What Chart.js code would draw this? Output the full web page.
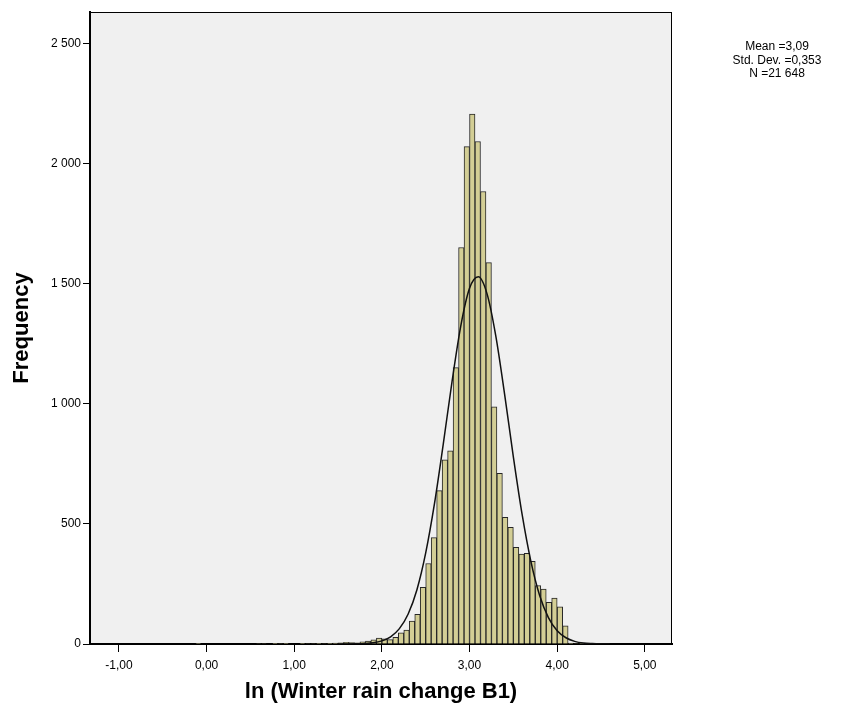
<!DOCTYPE html>
<html lang="en">
<head>
<meta charset="UTF-8">
<title>Histogram</title>
<style>
  html, body { margin: 0; padding: 0; background: #fff; }
  #wrap { width: 841px; height: 715px; }
</style>
</head>
<body>
<div id="wrap"><canvas id="myChart" width="841" height="715"></canvas></div>
<script src="https://cdn.jsdelivr.net/npm/chart.js@4.4.0/dist/chart.umd.min.js"></script>
<script>
// histogram bins (left edge, width 1/16) and counts
const binWidth = 0.0625;
const binLeft = [
  -0.125, 0.5625, 0.625, 0.75, 0.8125, 0.875, 1.0625, 1.125, 1.1875, 1.25,
  1.3125, 1.375, 1.4375, 1.5, 1.5625, 1.625, 1.6875, 1.75, 1.8125, 1.875,
  1.9375, 2.0, 2.0625, 2.125, 2.1875, 2.25, 2.3125, 2.375, 2.4375, 2.5,
  2.5625, 2.625, 2.6875, 2.75, 2.8125, 2.875, 2.9375, 3.0, 3.0625, 3.125,
  3.1875, 3.25, 3.3125, 3.375, 3.4375, 3.5, 3.5625, 3.625, 3.6875, 3.75,
  3.8125, 3.875, 3.9375, 4.0, 4.0625, 4.125, 4.1875, 4.25
];
const freq = [
  3, 2, 2, 1, 2, 1, 1, 2, 2, 3,
  2, 3, 4, 5, 7, 6, 5, 9, 12, 17,
  25, 22, 18, 28, 46, 58, 95, 123, 236, 335,
  443, 638, 766, 804, 1150, 1650, 2070, 2205, 2091, 1883,
  1587, 987, 710, 527, 485, 402, 374, 377, 344, 243,
  229, 173, 191, 155, 76, 4, 2, 1
];

// normal curve (mean 3,09, sd 0,353)
const curveX = [1.5, 1.6, 1.7, 1.8, 1.9, 2.0, 2.1, 2.2, 2.3, 2.4, 2.5, 2.6, 2.7, 2.8, 2.9, 3.0, 3.1,
  3.2, 3.3, 3.4, 3.5, 3.6, 3.7, 3.8, 3.9, 4.0, 4.1, 4.2, 4.3, 4.4, 4.5, 4.6];
const curveY = [0, 0.2, 0.7, 2, 5, 13, 30, 64, 125, 226, 379, 584, 831, 1091, 1323, 1480, 1528,
  1457, 1281, 1040, 779, 539, 344, 202, 110, 55, 26, 11, 4, 1.6, 0.5, 0.2];

const xTicks = [-1, 0, 1, 2, 3, 4, 5];
const yTicks = [0, 500, 1000, 1500, 2000, 2500];
const statsLines = ['Mean =3,09', 'Std. Dev. =0,353', 'N =21 648'];

function milhar(v) {
  return String(v).replace(/\B(?=(\d{3})+(?!\d))/g, ' ');
}

const barData = [];
for (let i = 0; i < binLeft.length; i++) {
  barData.push({ x: binLeft[i] + binWidth / 2, y: freq[i] });
}
const lineData = [];
for (let i = 0; i < curveX.length; i++) {
  lineData.push({ x: curveX[i], y: curveY[i] });
}

// plot background, frame and the stats box text
const fundo = {
  id: 'fundo',
  beforeDraw(chart) {
    const { ctx, chartArea: a } = chart;
    ctx.save();
    ctx.fillStyle = '#ffffff';
    ctx.fillRect(0, 0, chart.width, chart.height);
    ctx.fillStyle = '#f0f0f0';
    ctx.fillRect(a.left, a.top, a.right - a.left, a.bottom - a.top);
    ctx.restore();
  },
  afterDraw(chart) {
    const { ctx, chartArea: a } = chart;
    ctx.save();
    ctx.strokeStyle = '#000';
    ctx.lineWidth = 1;
    ctx.strokeRect(a.left + 0.5, a.top + 0.5, a.right - a.left - 1, a.bottom - a.top);
    ctx.fillStyle = '#000';
    ctx.font = '12px "Liberation Sans", Arial, sans-serif';
    ctx.textAlign = 'center';
    ctx.textBaseline = 'middle';
    statsLines.forEach(function (t, i) {
      ctx.fillText(t, 777, 47 + i * 13.5);
    });
    ctx.restore();
  }
};

const ctx = document.getElementById('myChart');
new Chart(ctx, {
  type: 'bar',
  data: {
    datasets: [
      {
        type: 'line',
        label: 'Normal',
        data: lineData,
        borderColor: '#111',
        borderWidth: 1.5,
        pointRadius: 0,
        fill: false,
        cubicInterpolationMode: 'monotone',
        order: 0
      },
      {
        label: 'Frequency',
        data: barData,
        backgroundColor: '#d3ce95',
        borderColor: '#262626',
        borderWidth: 1,
        barPercentage: 1,
        categoryPercentage: 1,
        grouped: false,
        order: 1
      }
    ]
  },
  options: {
    responsive: false,
    animation: false,
    layout: { padding: { top: 12, right: 169, left: 0, bottom: 0 } },
    plugins: {
      legend: { display: false },
      tooltip: { enabled: false }
    },
    scales: {
      x: {
        type: 'linear',
        min: -1.33,
        max: 5.31,
        offset: false,
        afterFit(scale) { scale.height = 71; },
        afterBuildTicks(scale) { scale.ticks = xTicks.map(v => ({ value: v })); },
        grid: { offset: false, drawOnChartArea: false, drawTicks: true, tickLength: 8, color: '#000', lineWidth: 1 },
        border: { display: true, color: '#000', width: 2 },
        ticks: {
          color: '#000',
          padding: 6,
          maxRotation: 0,
          font: { family: '"Liberation Sans", Arial, sans-serif', size: 12 },
          callback: v => v.toFixed(2).replace('.', ',')
        },
        title: {
          display: true,
          text: 'ln (Winter rain change B1)',
          color: '#000',
          font: { family: '"Liberation Sans", Arial, sans-serif', size: 22, weight: 'bold' },
          padding: { top: 0, bottom: 10 }
        }
      },
      y: {
        min: 0,
        max: 2630,
        afterFit(scale) { scale.width = 90; },
        afterBuildTicks(scale) { scale.ticks = yTicks.map(v => ({ value: v })); },
        grid: { drawOnChartArea: false, drawTicks: true, tickLength: 7, color: '#000', lineWidth: 1 },
        border: { display: true, color: '#000', width: 2 },
        ticks: {
          color: '#000',
          padding: 2,
          font: { family: '"Liberation Sans", Arial, sans-serif', size: 12 },
          callback: v => milhar(v)
        },
        title: {
          display: true,
          text: 'Frequency',
          color: '#000',
          font: { family: '"Liberation Sans", Arial, sans-serif', size: 22, weight: 'bold' },
          padding: { top: 9, bottom: 0 }
        }
      }
    }
  },
  plugins: [fundo]
});
</script>
</body>
</html>
